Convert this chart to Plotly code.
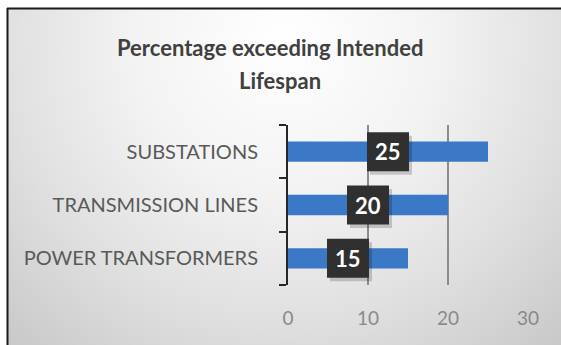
import base64
import plotly.graph_objects as go

# Chart data
categories = ["POWER TRANSFORMERS", "TRANSMISSION LINES", "SUBSTATIONS"]
values = [15, 20, 25]
x_ticks = [0, 10, 20, 30]
title_lines = ["Percentage exceeding Intended", "Lifespan"]

W, H = 561, 345
M_L, M_R, M_T, M_B = 288, 33, 125, 60
PW, PH = W - M_L - M_R, H - M_T - M_B

FONT = "Lato"


def px_x(px):
    """Canvas pixel column -> paper x."""
    return (px - M_L) / PW


def px_y(py):
    """Canvas pixel row -> paper y."""
    return 1 + (M_T - py) / PH


# Soft radial backdrop inside the chart frame
GX, GY = 8, 9
GW, GH = W - GX, H - GY
bg_svg = f"""<svg xmlns='http://www.w3.org/2000/svg' width='{GW}' height='{GH}' viewBox='0 0 {GW} {GH}' preserveAspectRatio='none'>
<defs><radialGradient id='g' gradientUnits='userSpaceOnUse' cx='277' cy='31' r='430'>
<stop offset='0' stop-color='#ffffff'/>
<stop offset='0.35' stop-color='#f3f3f3'/>
<stop offset='0.65' stop-color='#e0e0e0'/>
<stop offset='1' stop-color='#c5c5c5'/>
</radialGradient></defs>
<rect width='{GW}' height='{GH}' fill='url(#g)'/>
</svg>"""
bg_uri = "data:image/svg+xml;base64," + base64.b64encode(bg_svg.encode()).decode()

fig = go.Figure(
    go.Bar(
        x=values,
        y=categories,
        orientation="h",
        marker=dict(color="#3b78c5", line=dict(width=0)),
        hoverinfo="skip",
    )
)

annotations = []
# Title, two centred lines
annotations.append(dict(
    text=f"<b>{title_lines[0]}</b>", xref="paper", yref="paper",
    x=px_x(270), y=px_y(47), xanchor="center", yanchor="middle",
    showarrow=False, font=dict(family=FONT, size=22, color="#404040"),
))
annotations.append(dict(
    text=f"<b>{title_lines[1]}</b>", xref="paper", yref="paper",
    x=px_x(280), y=px_y(80), xanchor="center", yanchor="middle",
    showarrow=False, font=dict(family=FONT, size=22, color="#404040"),
))

shapes = []
# Dark frame along the top and left edges
shapes.append(dict(type="line", xref="paper", yref="paper", layer="below",
                   x0=px_x(7.5), x1=px_x(7.5), y0=px_y(8), y1=px_y(H),
                   line=dict(color="#1a1a1a", width=2)))
shapes.append(dict(type="line", xref="paper", yref="paper", layer="below",
                   x0=px_x(7), x1=px_x(W), y0=px_y(8.5), y1=px_y(8.5),
                   line=dict(color="#1a1a1a", width=2)))

# Value labels: dark box with a soft drop shadow, centred on each bar
for cat, v in zip(categories, values):
    shapes.append(dict(
        type="rect", xref="x", yref="y", layer="above",
        xsizemode="pixel", ysizemode="pixel", xanchor=v / 2, yanchor=cat,
        x0=-18, x1=24, y0=-23, y1=16,
        fillcolor="rgba(0,0,0,0.18)", line=dict(width=0),
    ))
    shapes.append(dict(
        type="rect", xref="x", yref="y", layer="above",
        xsizemode="pixel", ysizemode="pixel", xanchor=v / 2, yanchor=cat,
        x0=-21, x1=21, y0=-19.5, y1=19.5,
        fillcolor="#303030", line=dict(width=0),
    ))
    annotations.append(dict(
        x=v / 2, y=cat, xref="x", yref="y", text=f"<b>{v}</b>", showarrow=False,
        font=dict(family=FONT, size=22, color="#ffffff"),
    ))

fig.update_layout(
    width=W, height=H,
    margin=dict(l=M_L, r=M_R, t=M_T, b=M_B, pad=0),
    paper_bgcolor="#ffffff",
    plot_bgcolor="rgba(0,0,0,0)",
    bargap=0.62,
    showlegend=False,
    annotations=annotations,
    shapes=shapes,
    images=[dict(
        source=bg_uri, xref="paper", yref="paper",
        x=px_x(GX), y=px_y(GY), sizex=GW / PW, sizey=GH / PH,
        xanchor="left", yanchor="top", sizing="stretch", layer="below",
    )],
    xaxis=dict(
        range=[0, 30], tickvals=x_ticks, showgrid=True, gridcolor="#8c8c8c",
        gridwidth=1.5, zeroline=False, showline=False, ticks="",
        tickfont=dict(family=FONT, size=19, color="#8a8a8a"),
        ticklabelstandoff=20, fixedrange=True,
    ),
    yaxis=dict(
        categoryorder="array", categoryarray=categories,
        showline=True, linecolor="#262626", linewidth=2,
        ticks="outside", tickson="boundaries", ticklen=7, tickwidth=2,
        tickcolor="#262626", showgrid=False,
        tickfont=dict(family=FONT, size=20, color="#595959"),
        ticklabelstandoff=24, fixedrange=True,
    ),
)

fig.write_html("out.html")
